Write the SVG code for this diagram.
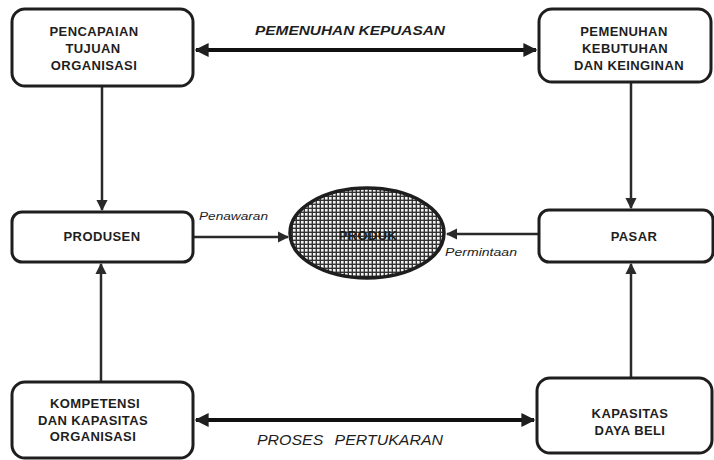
<svg xmlns="http://www.w3.org/2000/svg" width="714" height="460" viewBox="0 0 714 460">
<defs>
<style>
.box{fill:#fff;stroke:#1e1e1e;stroke-width:3}
.t{font-family:"Liberation Sans",Arial,sans-serif;font-weight:bold;font-size:13px;letter-spacing:0.4px;fill:#1e1e1e;text-anchor:middle}
.lbl{font-family:"Liberation Sans",Arial,sans-serif;font-style:italic;fill:#1e1e1e}
.ln{stroke:#2a2a2a;stroke-width:2.5;fill:none}
.thick{stroke:#111;stroke-width:4;fill:none}
</style>
<marker id="ah" viewBox="0 0 10 10" refX="9" refY="5" markerWidth="3.5" markerHeight="3.5" orient="auto-start-reverse" markerUnits="strokeWidth">
<path d="M0,0 L10,5 L0,10 z" fill="#1e1e1e"/>
</marker>
<marker id="ah2" viewBox="0 0 10 10" refX="9" refY="5" markerWidth="4.5" markerHeight="4.5" orient="auto-start-reverse" markerUnits="strokeWidth">
<path d="M0,0 L10,5 L0,10 z" fill="#2a2a2a"/>
</marker>
<pattern id="hatch" width="4" height="4" patternUnits="userSpaceOnUse">
<rect width="4" height="4" fill="#333"/>
<rect x="1" y="1" width="2.6" height="2.6" fill="#f4f4f4"/>
</pattern>
</defs>
<rect width="714" height="460" fill="#fff"/>

<g id="connectors">
<line class="thick" x1="196" y1="50" x2="536" y2="50" marker-start="url(#ah)" marker-end="url(#ah)"/>
<line class="thick" x1="196" y1="420" x2="534" y2="420" marker-start="url(#ah)" marker-end="url(#ah)"/>
<line class="ln" x1="102" y1="87" x2="102" y2="210" marker-end="url(#ah2)"/>
<line class="ln" x1="631" y1="83" x2="631" y2="208" marker-end="url(#ah2)"/>
<line class="ln" x1="101" y1="381" x2="101" y2="264" marker-end="url(#ah2)"/>
<line class="ln" x1="631" y1="377" x2="631" y2="264" marker-end="url(#ah2)"/>
<line class="ln" x1="194" y1="237" x2="288" y2="237" marker-end="url(#ah2)"/>
<line class="ln" x1="538" y1="234" x2="447" y2="234" marker-end="url(#ah2)"/>
<text class="lbl" x="350" y="35" font-weight="bold" font-size="13" text-anchor="middle" textLength="190" lengthAdjust="spacingAndGlyphs">PEMENUHAN KEPUASAN</text>
<text class="lbl" x="350" y="445" font-size="14" text-anchor="middle" textLength="186" lengthAdjust="spacingAndGlyphs" word-spacing="6">PROSES PERTUKARAN</text>
<text class="lbl" x="199" y="220" font-size="11" textLength="69" lengthAdjust="spacingAndGlyphs">Penawaran</text>
<text class="lbl" x="445" y="256" font-size="11" textLength="72" lengthAdjust="spacingAndGlyphs">Permintaan</text>
</g>

<g id="pencapaian">
<rect class="box" x="12" y="9" width="181" height="77" rx="13"/>
<text class="t" x="94" y="36">PENCAPAIAN</text>
<text class="t" x="93" y="53">TUJUAN</text>
<text class="t" x="94" y="70">ORGANISASI</text>
</g>

<g id="pemenuhan">
<rect class="box" x="539" y="9" width="172" height="73" rx="13"/>
<text class="t" x="624" y="36">PEMENUHAN</text>
<text class="t" x="625" y="53">KEBUTUHAN</text>
<text class="t" x="629" y="70">DAN KEINGINAN</text>
</g>

<g id="produsen">
<rect class="box" x="12" y="212" width="181" height="50" rx="10"/>
<text class="t" x="102" y="241">PRODUSEN</text>
</g>

<g id="produk">
<ellipse cx="367" cy="233" rx="77" ry="45" fill="url(#hatch)" stroke="#1e1e1e" stroke-width="3.5"/>
<text class="t" x="368" y="240" fill="#222" font-size="12">PRODUK</text>
</g>

<g id="pasar">
<rect class="box" x="539" y="210" width="174" height="52" rx="10"/>
<text class="t" x="634" y="241">PASAR</text>
</g>

<g id="kompetensi">
<rect class="box" x="12" y="382" width="181" height="76" rx="13"/>
<text class="t" x="95" y="408">KOMPETENSI</text>
<text class="t" x="93" y="425">DAN KAPASITAS</text>
<text class="t" x="93" y="441">ORGANISASI</text>
</g>

<g id="kapasitas">
<rect class="box" x="537" y="378" width="175" height="75" rx="13"/>
<text class="t" x="630" y="418">KAPASITAS</text>
<text class="t" x="630" y="435">DAYA BELI</text>
</g>
</svg>
